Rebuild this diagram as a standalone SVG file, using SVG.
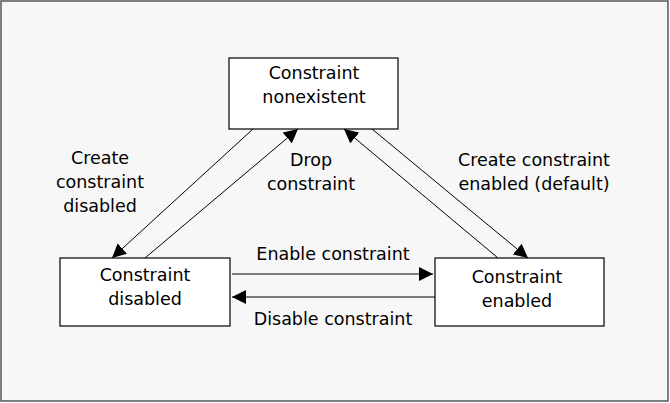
<svg xmlns="http://www.w3.org/2000/svg" width="670" height="403" viewBox="0 0 670 403">
<style>
.n{fill:#fff;stroke:#000;stroke-width:1.2}
.t{font-family:"DejaVu Sans",sans-serif;font-size:17.5px;fill:#000;text-anchor:middle}
.c line{stroke:#000;stroke-width:1}
</style>
<defs><marker id="a" viewBox="0 0 10 10" refX="10" refY="5" markerWidth="14" markerHeight="14" markerUnits="userSpaceOnUse" orient="auto"><path d="M0,0L10,5L0,10z" fill="#000"/></marker></defs>
<rect x="1" y="1" width="667" height="400" fill="#f7f7f7" stroke="#555" stroke-width="1.5"/>
<g id="nonexistent"><rect class="n" x="229" y="58" width="169" height="71"/><text class="t" x="314" y="79">Constraint</text><text class="t" x="314" y="103">nonexistent</text></g>
<g id="disabled"><rect class="n" x="60" y="258" width="170" height="68"/><text class="t" x="145" y="281">Constraint</text><text class="t" x="145" y="305">disabled</text></g>
<g id="enabled"><rect class="n" x="435" y="258" width="169" height="68"/><text class="t" x="517" y="283">Constraint</text><text class="t" x="517" y="307">enabled</text></g>
<g class="c">
<line x1="253" y1="129" x2="112" y2="258" marker-end="url(#a)"/>
<line x1="145" y1="258" x2="298" y2="129" marker-end="url(#a)"/>
<line x1="498" y1="258" x2="344" y2="129" marker-end="url(#a)"/>
<line x1="372" y1="129" x2="528" y2="258" marker-end="url(#a)"/>
<line x1="232" y1="274" x2="433" y2="274" marker-end="url(#a)"/>
<line x1="435" y1="297" x2="232" y2="297" marker-end="url(#a)"/>
</g>
<g class="t">
<text x="100" y="164">Create</text><text x="100" y="188">constraint</text><text x="100" y="212">disabled</text>
<text x="311" y="166">Drop</text><text x="311" y="190">constraint</text>
<text x="534" y="166">Create constraint</text><text x="534" y="190">enabled (default)</text>
<text x="333" y="260">Enable constraint</text>
<text x="333" y="325">Disable constraint</text>
</g>
</svg>
